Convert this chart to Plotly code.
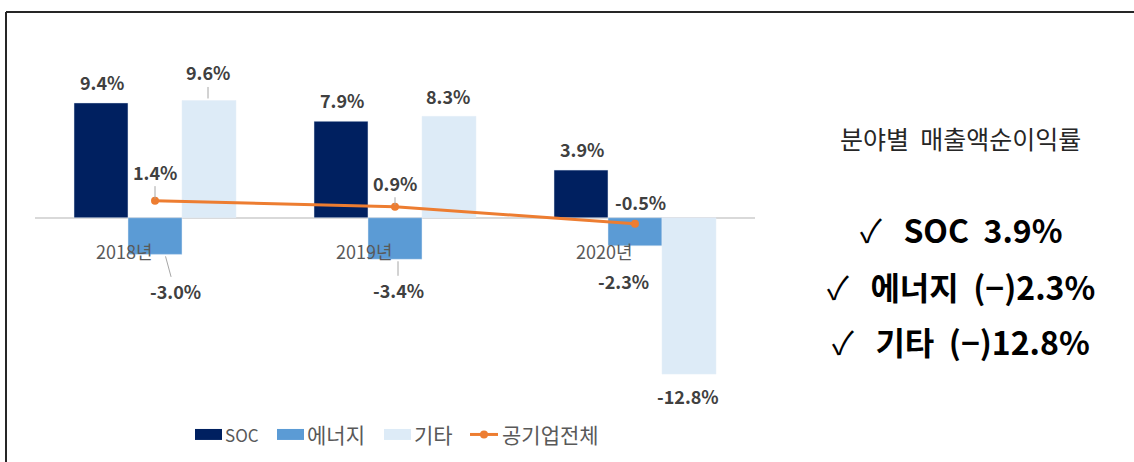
import plotly.graph_objects as go

# data
years = ['2018년', '2019년', '2020년']
soc = [9.4, 7.9, 3.9]
energy = [-3.0, -3.4, -2.3]
etc = [9.6, 8.3, -12.8]
total = [1.4, 0.9, -0.5]

series_names = ['SOC', '에너지', '기타', '공기업전체']
series_colors = ['#002060', '#5B9BD5', '#DDEBF7', '#ED7D31']

summary_title = '분야별  매출액순이익률'
summary_lines = ['SOC  3.9%', '에너지  (−)2.3%', '기타  (−)12.8%']

FONT = 'Noto Sans CJK KR'
LABEL_COLOR = '#404040'

# plot area in pixels (for placing things outside the axes)
L, R, T, B = 35, 755, 40, 401.5
def px(x):
    return (x - L) / (R - L)
def py(y):
    return (B - y) / (B - T)

fig = go.Figure()
fig.add_trace(go.Bar(x=years, y=soc, name=series_names[0], marker_color=series_colors[0]))
fig.add_trace(go.Bar(x=years, y=energy, name=series_names[1], marker_color=series_colors[1]))
fig.add_trace(go.Bar(x=years, y=etc, name=series_names[2], marker_color=series_colors[2]))
fig.add_trace(go.Scatter(x=years, y=total, name=series_names[3], mode='lines+markers',
                         line=dict(color=series_colors[3], width=3),
                         marker=dict(size=8, color=series_colors[3])))

def label(x, y, text, xshift, yshift, arrow=None):
    a = dict(x=x, y=y, text='<b>%s</b>' % text, xshift=xshift, yshift=yshift,
             showarrow=False, font=dict(family=FONT, size=18, color=LABEL_COLOR))
    if arrow:
        a.update(showarrow=True, ax=arrow[0], ay=arrow[1], arrowhead=0,
                 arrowwidth=1, arrowcolor='#A6A6A6', yshift=0, standoff=2)
    fig.add_annotation(**a)

def pct(v):
    return '%.1f%%' % v

# data labels
for i, yr in enumerate(years):
    label(yr, soc[i], pct(soc[i]), -53, 21)
label(years[0], energy[0], pct(energy[0]), 10, 0, arrow=(10, 37))
label(years[1], energy[1], pct(energy[1]), 3, 0, arrow=(0, 31))
label(years[2], energy[2], pct(energy[2]), -12, -35)
label(years[0], etc[0], pct(etc[0]), 53, 0, arrow=(0, -28))
label(years[1], etc[1], pct(etc[1]), 53, 20)
label(years[2], etc[2], pct(etc[2]), 53, -22)
label(years[0], total[0], pct(total[0]), 0, 0, arrow=(0, -29))
label(years[1], total[1], pct(total[1]), 0, 0, arrow=(0, -24))
label(years[2], total[2], pct(total[2]), 5, 22)

# category labels
for yr in years:
    fig.add_annotation(x=yr, y=0, text=yr, xshift=-31, yshift=-33, showarrow=False,
                       font=dict(family=FONT, size=18, color='#595959'))

# right side summary
fig.add_annotation(xref='paper', yref='paper', x=px(960), y=py(138),
                   xanchor='center', yanchor='middle',
                   text=summary_title, showarrow=False,
                   font=dict(family=FONT, size=25, color='#262626'))
for j, t in enumerate(summary_lines):
    fig.add_annotation(xref='paper', yref='paper', x=px(961), y=py([229, 286, 341][j]),
                       xanchor='center', yanchor='middle',
                       text='✓   <b>%s</b>' % t, showarrow=False,
                       font=dict(family=FONT, size=32, color='#000000'))

# custom legend
leg_y = 435
box_x = [195, 277, 384]
text_size = [17, 21, 21, 21]
for k in range(3):
    fig.add_shape(type='rect', xref='paper', yref='paper',
                  x0=px(box_x[k]), x1=px(box_x[k] + 27), y0=py(leg_y - 5.5), y1=py(leg_y + 5.5),
                  line=dict(width=0), fillcolor=series_colors[k])
    fig.add_annotation(xref='paper', yref='paper', x=px(box_x[k] + 28), y=py(leg_y),
                       xanchor='left', yanchor='middle', text=series_names[k], showarrow=False,
                       font=dict(family=FONT, size=text_size[k], color='#595959'))
fig.add_shape(type='line', xref='paper', yref='paper', x0=px(470), x1=px(498),
              y0=py(leg_y), y1=py(leg_y), line=dict(color=series_colors[3], width=3))
fig.add_shape(type='circle', xref='paper', yref='paper', x0=px(480), x1=px(488),
              y0=py(leg_y - 4), y1=py(leg_y + 4), line=dict(width=0),
              fillcolor=series_colors[3])
fig.add_annotation(xref='paper', yref='paper', x=px(500), y=py(leg_y),
                   xanchor='left', yanchor='middle', text=series_names[3], showarrow=False,
                   font=dict(family=FONT, size=text_size[3], color='#595959'))

# frame (top and left edges only)
fig.add_shape(type='line', xref='paper', yref='paper', x0=px(6), x1=px(1140),
              y0=py(12), y1=py(12), line=dict(color='#262626', width=2))
fig.add_shape(type='line', xref='paper', yref='paper', x0=px(6), x1=px(6),
              y0=py(12), y1=py(470), line=dict(color='#262626', width=2))

fig.update_layout(
    width=1134, height=462, barmode='group', bargap=0.325, bargroupgap=0,
    plot_bgcolor='white', paper_bgcolor='white',
    margin=dict(l=L, r=1134 - R, t=T, b=462 - B),
    font=dict(family=FONT, color='#595959'),
    showlegend=False,
)
fig.update_xaxes(showticklabels=False, showgrid=False, showline=False, zeroline=False)
fig.update_yaxes(range=[-15, 14.55], showticklabels=False, showgrid=False,
                 zeroline=True, zerolinecolor='#D9D9D9', zerolinewidth=1.5)

fig.write_html('out.html', config={'displayModeBar': False},
               post_script="document.body.style.margin='0';")
